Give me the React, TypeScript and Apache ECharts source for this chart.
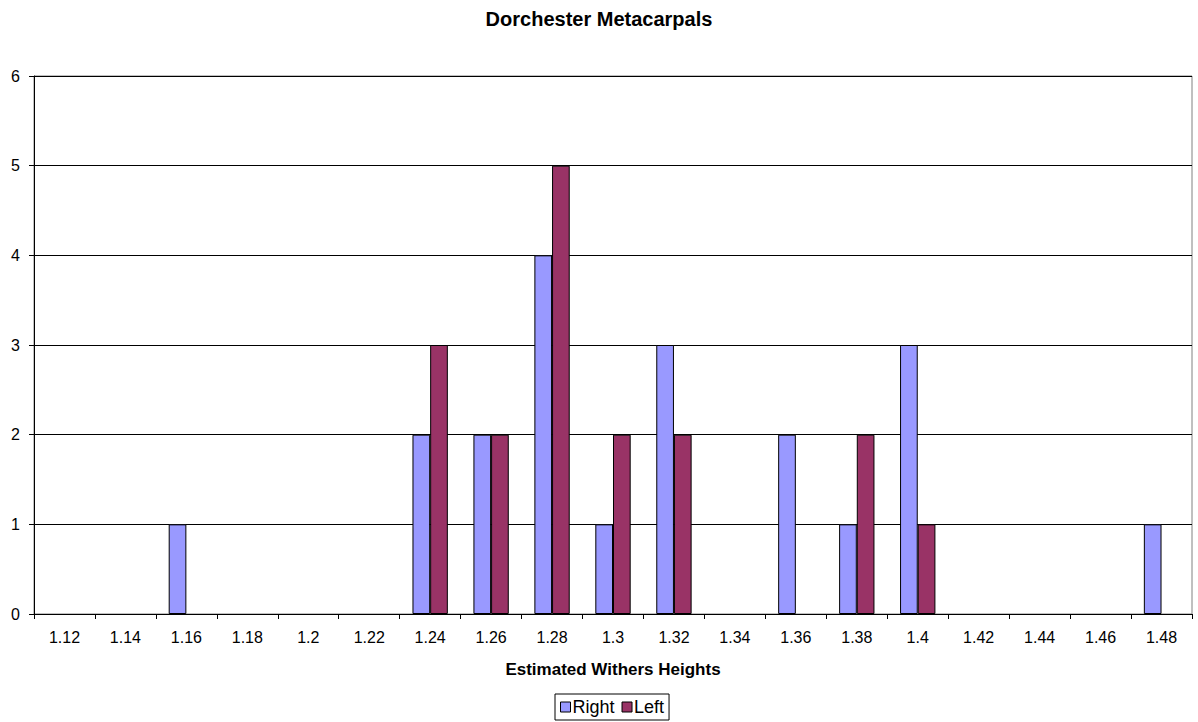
import React, { useEffect, useRef } from "react";
import * as echarts from "echarts";

const categories = ["1.12","1.14","1.16","1.18","1.2","1.22","1.24","1.26","1.28","1.3","1.32","1.34","1.36","1.38","1.4","1.42","1.44","1.46","1.48"];
const rightValues = [0,0,1,0,0,0,2,2,4,1,3,0,2,1,3,0,0,0,1];
const leftValues = [0,0,0,0,0,0,3,2,5,2,2,0,0,2,1,0,0,0,0];
const yTicks = { min: 0, max: 6, interval: 1 };

const FONT = "Arial, 'Liberation Sans', sans-serif";
// zero counts draw no bar (as in the reference)
const asBars = (vals: number[]) => vals.map((v) => (v === 0 ? "-" : v));

export default function App() {
  const ref = useRef<HTMLDivElement>(null);
  useEffect(() => {
    const chart = echarts.init(ref.current!, null, { renderer: "svg" });
    chart.setOption({
      animation: false,
      backgroundColor: "#ffffff",
      title: {
        text: "Dorchester Metacarpals",
        left: "center",
        top: 4,
        textStyle: { fontFamily: FONT, fontSize: 20, fontWeight: "bold", color: "#000" },
      },
      legend: {
        bottom: 2,
        left: 555,
        itemWidth: 10,
        itemHeight: 10,
        itemGap: 7,
        padding: [4, 5, 4, 5],
        borderColor: "#000",
        borderWidth: 1,
        borderRadius: 0,
        icon: "rect",
        textStyle: { fontFamily: FONT, fontSize: 18, lineHeight: 18, color: "#000", padding: [0, 0, 0, -3] },
        data: [
          { name: "Right", itemStyle: { borderColor: "#000", borderWidth: 1 } },
          { name: "Left", itemStyle: { borderColor: "#000", borderWidth: 1 } },
        ],
      },
      grid: {
        left: 34,
        right: 6,
        top: 76,
        bottom: 108,
        show: true,
        borderColor: "#808080",
        borderWidth: 1,
        containLabel: false,
      },
      xAxis: {
        type: "category",
        data: categories,
        name: "Estimated Withers Heights",
        nameLocation: "middle",
        nameGap: 47,
        nameTextStyle: { fontFamily: FONT, fontSize: 17, fontWeight: "bold", color: "#000" },
        axisLine: { lineStyle: { color: "#000", width: 1 } },
        axisTick: { show: true, length: 5, lineStyle: { color: "#000" } },
        axisLabel: { fontFamily: FONT, fontSize: 16, color: "#000", margin: 15 },
        splitLine: { show: false },
      },
      yAxis: {
        type: "value",
        min: yTicks.min,
        max: yTicks.max,
        interval: yTicks.interval,
        axisLine: { show: true, lineStyle: { color: "#000", width: 1 } },
        axisTick: { show: true, length: 5, lineStyle: { color: "#000" } },
        axisLabel: { fontFamily: FONT, fontSize: 16, color: "#000", margin: 14 },
        splitLine: { show: true, lineStyle: { color: "#000", width: 1 } },
      },
      series: [
        {
          name: "Right",
          type: "bar",
          data: asBars(rightValues),
          barGap: "0%",
          barCategoryGap: "42%",
          itemStyle: { color: "#9999FF", borderColor: "#000", borderWidth: 1 },
        },
        {
          name: "Left",
          type: "bar",
          data: asBars(leftValues),
          itemStyle: { color: "#993366", borderColor: "#000", borderWidth: 1 },
        },
      ],
    });
    return () => chart.dispose();
  }, []);
  return <div ref={ref} style={{ width: 1198, height: 722, position: "absolute", left: 0, top: 0 }} />;
}
